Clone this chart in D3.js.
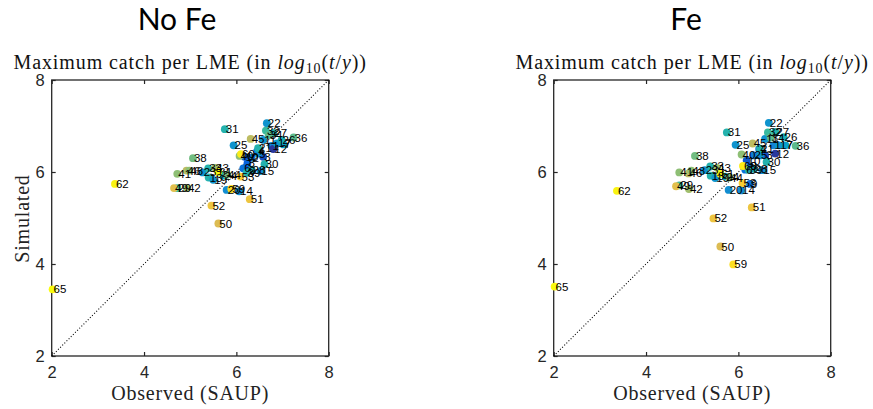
<!DOCTYPE html>
<html>
<head>
<meta charset="utf-8">
<script src="https://cdn.jsdelivr.net/npm/d3@7"></script>
<style>
  body { margin: 0; background: #fff; }
  svg { display: block; }
</style>
</head>
<body>
<svg id="chart" width="873" height="409"></svg>
<script>
// LME number, observed (SAUP) catch, simulated catch without / with Fe, colour value
var lmeIds   = [1, 2, 3, 4, 5, 6, 7, 8, 9, 10, 11, 12, 13, 14, 15, 17, 19, 20, 21, 22, 23, 24, 25, 26, 27, 28, 29, 30, 31, 32, 33, 34, 36, 38, 39, 40, 41, 42, 43, 44, 45, 46, 48, 49, 50, 51, 52, 53, 59, 60, 61, 62, 65];
var observed = [6.76, 6.33, 6.58, 6.45, 6.47, 6.15, 7.02, 6.24, 6.25, 6.18, 6.58, 6.80, 5.40, 6.06, 6.52, 6.88, 5.50, 5.79, 6.47, 6.66, 5.27, 5.72, 5.94, 6.98, 6.80, 6.33, 4.72, 6.61, 5.75, 6.64, 5.39, 6.70, 7.24, 5.06, 6.22, 6.07, 4.72, 4.93, 5.54, 5.80, 6.31, 4.92, 4.98, 4.65, 5.61, 6.29, 5.46, 6.09, 5.89, 6.10, 5.61, 3.37, 2.02];
var simNoFe  = [6.57, 6.31, 6.33, 6.45, 6.40, 6.08, 6.60, 6.19, 6.02, 6.33, 6.70, 6.50, 5.88, 5.58, 6.02, 6.62, 5.83, 5.61, 6.52, 7.06, 5.99, 5.92, 6.58, 6.70, 6.85, 6.05, 5.65, 6.17, 6.93, 6.90, 6.08, 6.80, 6.75, 6.30, 5.98, 6.35, 5.96, 5.65, 6.09, 5.94, 6.72, 6.03, 6.03, 5.65, 4.88, 5.41, 5.27, 5.90, 5.63, 6.39, 6.00, 5.74, 3.45];
var simFe    = [6.58, 6.36, 6.36, 6.50, 6.36, 6.05, 6.58, 6.12, 5.74, 6.25, 6.72, 6.40, 5.92, 5.60, 6.04, 6.58, 5.87, 5.61, 6.51, 7.07, 6.04, 5.90, 6.59, 6.76, 6.87, 6.07, 5.71, 6.22, 6.86, 6.86, 6.12, 6.75, 6.57, 6.35, 6.05, 6.38, 5.99, 5.63, 6.09, 5.88, 6.62, 5.97, 6.03, 5.69, 4.38, 5.23, 4.99, 5.76, 3.99, 6.13, 5.96, 5.59, 3.51];
var colorVal = [0.25, 0.22, 0.08, 0.2, 0.3, 0.18, 0.35, 0.12, 0.15, 0.1, 0.3, 0.03, 0.45, 0.28, 0.28, 0.32, 0.3, 0.28, 0.45, 0.3, 0.3, 0.4, 0.3, 0.42, 0.45, 0.42, 0.5, 0.45, 0.45, 0.5, 0.45, 0.55, 0.55, 0.58, 0.45, 0.62, 0.62, 0.65, 0.65, 0.6, 0.7, 0.7, 0.62, 0.78, 0.76, 0.82, 0.82, 0.86, 0.92, 0.96, 1.0, 0.98, 1.0];

var axisTicks = [2, 4, 6, 8];
var panelTitles = ["No Fe", "Fe"];
var panelSims = [simNoFe, simFe];
var subtitle = "Maximum catch per LME (in ";
var xLabel = "Observed (SAUP)", yLabel = "Simulated";

// parula-like colormap
var parulaStops = ["#352a87", "#0363e1", "#1485d4", "#06a7c6", "#38b99e", "#92bf73", "#d9ba56", "#fcce2e", "#f9fb0e"];
var color = d3.scaleLinear()
    .domain(d3.range(parulaStops.length).map(function(i) { return i / (parulaStops.length - 1); }))
    .range(parulaStops)
    .interpolate(d3.interpolateRgb);

var svg = d3.select("#chart");
var panelLeft = [51.7, 553.7], panelTop = 80, size = 277;
var serif = "'Liberation Serif', 'Times New Roman', serif";

panelTitles.forEach(function(title, p) {
    var sims = panelSims[p];
    var g = svg.append("g").attr("transform", "translate(" + panelLeft[p] + "," + panelTop + ")");

    var x = d3.scaleLinear().domain([2, 8]).range([0, size]);
    var y = d3.scaleLinear().domain([2, 8]).range([size - 1, 0]);

    // big title
    svg.append("text")
        .attr("x", p == 0 ? 177 : 686)
        .attr("y", 30)
        .attr("text-anchor", "middle")
        .style("font-family", "Lato, 'Open Sans', sans-serif")
        .style("font-size", "30px")
        .text(title);

    // subtitle with latex-ish math
    var st = g.append("text")
        .attr("x", size / 2)
        .attr("y", -11)
        .attr("text-anchor", "middle")
        .style("font-family", serif)
        .style("font-size", "20px")
        .style("letter-spacing", "0.9px")
        .attr("fill", "#111");
    st.append("tspan").text(subtitle);
    st.append("tspan").style("font-style", "italic").text("log");
    st.append("tspan").attr("dy", 4).style("font-size", "14px").text("10");
    st.append("tspan").attr("dy", -4).text("(");
    st.append("tspan").style("font-style", "italic").text("t");
    st.append("tspan").text("/");
    st.append("tspan").style("font-style", "italic").text("y");
    st.append("tspan").text("))");

    // axes
    g.append("g").attr("class", "ax").attr("transform", "translate(0," + (size - 1) + ")")
        .call(d3.axisBottom(x).tickValues(axisTicks).tickSize(-4).tickPadding(10).tickFormat(d3.format("d")));
    g.append("g").attr("class", "ax")
        .call(d3.axisLeft(y).tickValues(axisTicks).tickSize(-4).tickPadding(7).tickFormat(d3.format("d")));
    g.append("g").attr("class", "ax")
        .call(d3.axisTop(x).tickValues(axisTicks).tickSize(-4).tickFormat(""));
    g.append("g").attr("class", "ax").attr("transform", "translate(" + size + ",0)")
        .call(d3.axisRight(y).tickValues(axisTicks).tickSize(-4).tickFormat(""));
    g.selectAll(".domain").remove();
    g.selectAll(".ax .tick line").attr("stroke", "#262626").attr("stroke-width", 1.2);
    g.selectAll(".ax .tick text")
        .attr("fill", "#262626")
        .style("font-family", "'Liberation Sans', Arial, sans-serif")
        .style("font-size", "16.5px");

    g.append("rect")
        .attr("x", 0).attr("y", 0)
        .attr("width", size).attr("height", size - 1)
        .attr("fill", "none")
        .attr("stroke", "#262626")
        .attr("stroke-width", 1.3);

    // 1:1 line
    g.append("line")
        .attr("x1", x(2)).attr("y1", y(2))
        .attr("x2", x(8)).attr("y2", y(8))
        .attr("stroke", "#000")
        .attr("stroke-width", 1.1)
        .attr("stroke-dasharray", "1,2");

    // points then labels
    g.selectAll(".dot")
        .data(lmeIds)
        .enter().append("circle")
        .attr("class", "dot")
        .attr("cx", function(d, i) { return x(observed[i]); })
        .attr("cy", function(d, i) { return y(sims[i]); })
        .attr("r", 3.9)
        .attr("fill", function(d, i) { return color(colorVal[i]); });

    g.selectAll(".lbl")
        .data(lmeIds)
        .enter().append("text")
        .attr("class", "lbl")
        .attr("x", function(d, i) { return x(observed[i]) + 1; })
        .attr("y", function(d, i) { return y(sims[i]) + 4; })
        .style("font-family", "'Liberation Sans', Arial, sans-serif")
        .style("font-size", "11.5px")
        .attr("fill", "#000")
        .text(function(d) { return d; });

    // axis labels
    g.append("text")
        .attr("x", size / 2)
        .attr("y", 320)
        .attr("text-anchor", "middle")
        .style("font-family", serif)
        .style("font-size", "20px")
        .style("letter-spacing", "0.8px")
        .attr("fill", "#222")
        .text(xLabel);

    if (p == 0) {
        g.append("text")
            .attr("transform", "translate(-23," + (size / 2) + ") rotate(-90)")
            .attr("text-anchor", "middle")
            .style("font-family", serif)
            .style("font-size", "20px")
            .style("letter-spacing", "0.8px")
            .attr("fill", "#222")
            .text(yLabel);
    }
});
</script>
</body>
</html>
